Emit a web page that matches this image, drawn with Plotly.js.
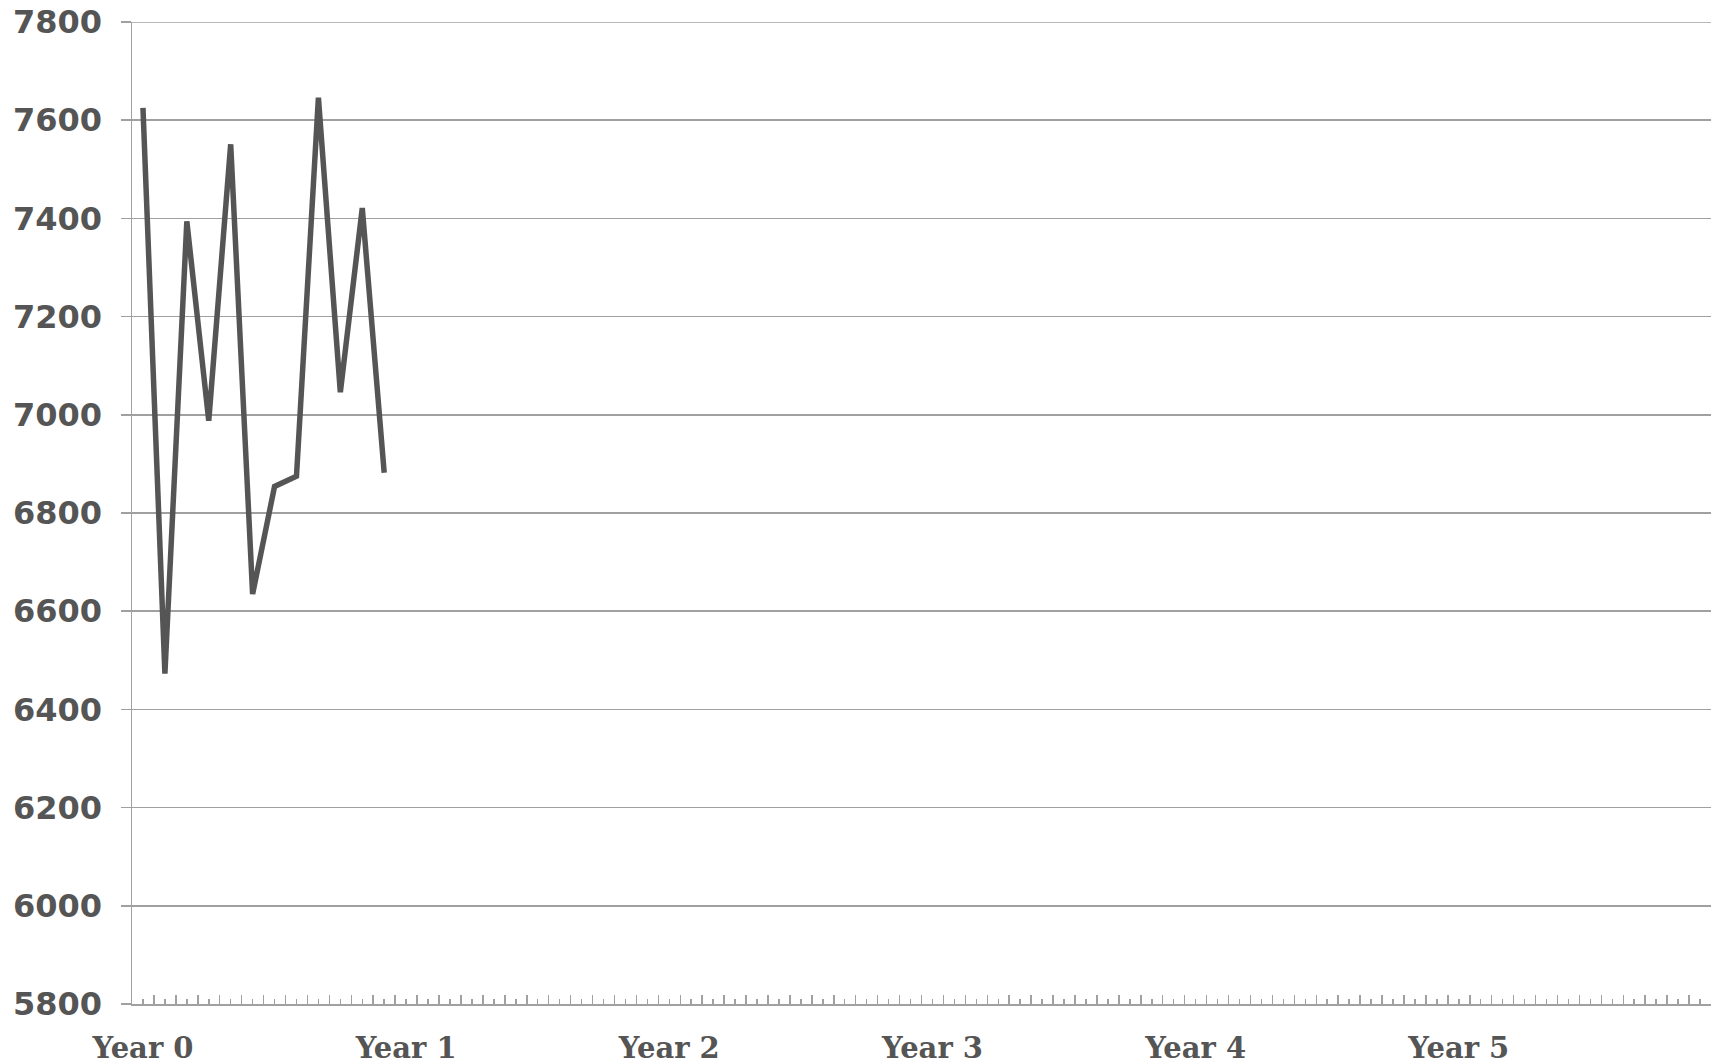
<!DOCTYPE html>
<html>
<head>
<meta charset="utf-8">
<script src="https://cdn.plot.ly/plotly-3.0.1.min.js"></script>
<style>html,body{margin:0;padding:0;background:#fff;}#chart{width:1719px;height:1064px;}</style>
</head>
<body>
<div id="chart"></div>
<script>
// Data
const monthIndex = [0,1,2,3,4,5,6,7,8,9,10,11];
const values = [7625, 6473, 7394, 6988, 7551, 6635, 6854, 6875, 7646, 7046, 7421, 6882];
const yearTickPos = [0, 12, 24, 36, 48, 60];
const yearLabels = ["Year 0", "Year 1", "Year 2", "Year 3", "Year 4", "Year 5"];
const nCategories = 72;
const yTicks = [5800, 6000, 6200, 6400, 6600, 6800, 7000, 7200, 7400, 7600, 7800];
const yMin = 5800, yMax = 7800;

const axisGray = '#a0a0a0';
const textGray = '#555555';

const traces = [
  {
    x: monthIndex, y: values, type: 'scatter', mode: 'lines',
    line: {color: '#555555', width: 5.5}, hoverinfo: 'skip', showlegend: false,
    xaxis: 'x', yaxis: 'y'
  },
  {
    x: yearTickPos, y: yearTickPos.map(() => null), type: 'scatter', mode: 'lines',
    hoverinfo: 'skip', showlegend: false, xaxis: 'x2', yaxis: 'y'
  }
];

const xrange = [-0.5, nCategories - 0.5];

const layout = {
  width: 1719, height: 1064,
  margin: {l: 132, r: 8, t: 22, b: 60},
  paper_bgcolor: '#ffffff', plot_bgcolor: '#ffffff',
  showlegend: false,
  xaxis: {
    type: 'linear', range: xrange, fixedrange: true,
    tickmode: 'linear', tick0: -0.5, dtick: 1,
    ticks: 'inside', ticklen: 9, tickwidth: 1.5, tickcolor: axisGray,
    showticklabels: false, showgrid: false, zeroline: false,
    showline: true, linecolor: axisGray, linewidth: 1.5,
    minor: {tickmode: 'linear', tick0: 0, dtick: 1, ticks: 'inside', ticklen: 5, tickwidth: 1.5, tickcolor: axisGray, showgrid: false}
  },
  xaxis2: {
    type: 'linear', range: xrange, overlaying: 'x', side: 'bottom', fixedrange: true,
    tickmode: 'array', tickvals: yearTickPos, ticktext: yearLabels,
    ticks: '', showgrid: false, zeroline: false, showline: false,
    ticklabelstandoff: 24,
    tickfont: {family: 'DejaVu Serif, Georgia, serif', size: 29, color: textGray, weight: 'bold'}
  },
  yaxis: {
    range: [yMin, yMax], fixedrange: true,
    tickmode: 'array', tickvals: yTicks,
    ticks: 'outside', ticklen: 10, tickwidth: 1.5, tickcolor: axisGray,
    showgrid: true, gridcolor: axisGray, gridwidth: 1.5,
    zeroline: false, showline: true, linecolor: axisGray, linewidth: 1.5,
    ticklabelstandoff: 12,
    tickfont: {family: 'DejaVu Sans, Verdana, sans-serif', size: 32, color: textGray, weight: 'bold'}
  },
  shapes: [
    {type: 'line', xref: 'paper', yref: 'y', x0: 0, x1: 1, y0: yMax, y1: yMax,
     line: {color: axisGray, width: 1.5}, layer: 'below'}
  ]
};

Plotly.newPlot('chart', traces, layout, {staticPlot: true, displayModeBar: false});
</script>
</body>
</html>
